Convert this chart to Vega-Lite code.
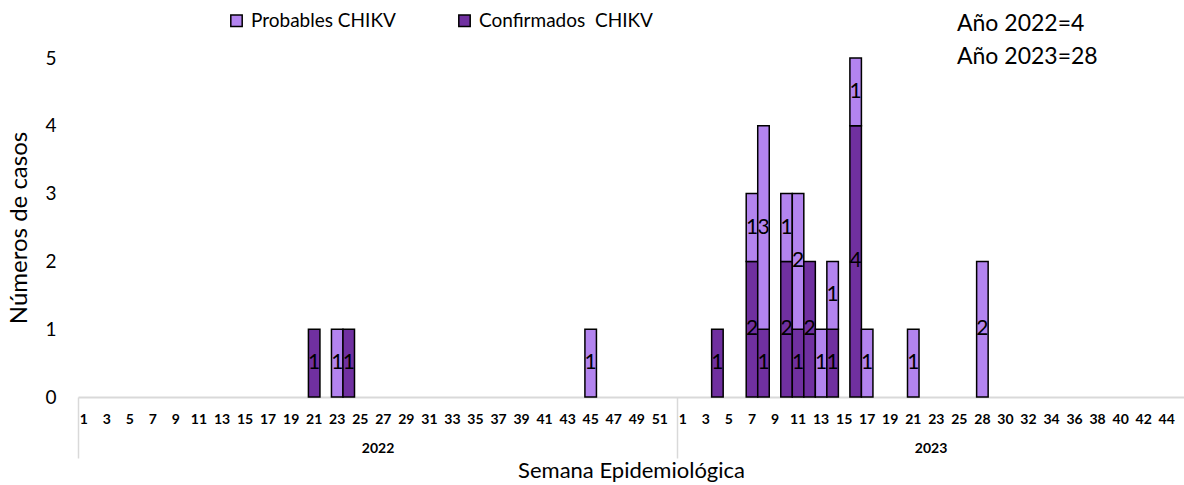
{
  "$schema": "https://vega.github.io/schema/vega-lite/v6.json",
  "autosize": {"type": "none"},
  "padding": {"left": 78, "top": 58, "right": 0, "bottom": 88},
  "width": 1106,
  "height": 339,
  "config": {"font": "Lato", "view": {"stroke": null}},
  "title": {
    "text": ["Año 2022=4", "Año 2023=28"],
    "anchor": "start", "align": "left", "orient": "top", "frame": "group",
    "fontSize": 23, "fontWeight": "normal", "font": "Lato", "color": "black",
    "baseline": "top", "lineHeight": 33, "dx": 879, "dy": 58, "offset": 0
  },
  "data": {
    "values": [
      {"key": "2022-21", "tipo": "Confirmados\u00a0 CHIKV", "n": 1},
      {"key": "2022-23", "tipo": "Probables CHIKV", "n": 1},
      {"key": "2022-24", "tipo": "Confirmados\u00a0 CHIKV", "n": 1},
      {"key": "2022-45", "tipo": "Probables CHIKV", "n": 1},
      {"key": "2023-4", "tipo": "Confirmados\u00a0 CHIKV", "n": 1},
      {"key": "2023-7", "tipo": "Confirmados\u00a0 CHIKV", "n": 2},
      {"key": "2023-7", "tipo": "Probables CHIKV", "n": 1},
      {"key": "2023-8", "tipo": "Confirmados\u00a0 CHIKV", "n": 1},
      {"key": "2023-8", "tipo": "Probables CHIKV", "n": 3},
      {"key": "2023-10", "tipo": "Confirmados\u00a0 CHIKV", "n": 2},
      {"key": "2023-10", "tipo": "Probables CHIKV", "n": 1},
      {"key": "2023-11", "tipo": "Confirmados\u00a0 CHIKV", "n": 1},
      {"key": "2023-11", "tipo": "Probables CHIKV", "n": 2},
      {"key": "2023-12", "tipo": "Confirmados\u00a0 CHIKV", "n": 2},
      {"key": "2023-13", "tipo": "Probables CHIKV", "n": 1},
      {"key": "2023-14", "tipo": "Confirmados\u00a0 CHIKV", "n": 1},
      {"key": "2023-14", "tipo": "Probables CHIKV", "n": 1},
      {"key": "2023-16", "tipo": "Confirmados\u00a0 CHIKV", "n": 4},
      {"key": "2023-16", "tipo": "Probables CHIKV", "n": 1},
      {"key": "2023-17", "tipo": "Probables CHIKV", "n": 1},
      {"key": "2023-21", "tipo": "Probables CHIKV", "n": 1},
      {"key": "2023-28", "tipo": "Probables CHIKV", "n": 2}
    ]
  },
  "resolve": {"scale": {"x": "independent"}, "axis": {"x": "independent"}},
  "layer": [
    {
      "encoding": {
        "x": {
          "field": "key", "type": "ordinal",
          "scale": {
            "paddingInner": 0, "paddingOuter": 0,
            "domain": ["2022-1","2022-2","2022-3","2022-4","2022-5","2022-6","2022-7","2022-8","2022-9","2022-10","2022-11","2022-12","2022-13","2022-14","2022-15","2022-16","2022-17","2022-18","2022-19","2022-20","2022-21","2022-22","2022-23","2022-24","2022-25","2022-26","2022-27","2022-28","2022-29","2022-30","2022-31","2022-32","2022-33","2022-34","2022-35","2022-36","2022-37","2022-38","2022-39","2022-40","2022-41","2022-42","2022-43","2022-44","2022-45","2022-46","2022-47","2022-48","2022-49","2022-50","2022-51","2022-52","2023-1","2023-2","2023-3","2023-4","2023-5","2023-6","2023-7","2023-8","2023-9","2023-10","2023-11","2023-12","2023-13","2023-14","2023-15","2023-16","2023-17","2023-18","2023-19","2023-20","2023-21","2023-22","2023-23","2023-24","2023-25","2023-27","2023-28","2023-29","2023-30","2023-31","2023-32","2023-33","2023-34","2023-35","2023-36","2023-37","2023-38","2023-39","2023-40","2023-41","2023-42","2023-43","2023-44","2023-45"]
          },
          "axis": {
            "title": null, "ticks": false, "grid": false,
            "domainColor": "#d9d9d9", "domainWidth": 2,
            "labelAngle": 0, "labelOverlap": false, "labelFontSize": 14,
            "labelFontWeight": "bold", "labelColor": "black", "labelPadding": 15,
            "labelExpr": "(slice(datum.value,0,4) == '2022' || toNumber(slice(datum.value,5)) <= 25) ? (toNumber(slice(datum.value,5)) % 2 == 1 ? slice(datum.value,5) : '') : (toNumber(slice(datum.value,5)) % 2 == 0 ? slice(datum.value,5) : '')"
          }
        }
      },
      "layer": [
        {
          "mark": {"type": "bar", "stroke": "black", "strokeWidth": 1.5},
          "encoding": {
            "y": {
              "field": "n", "type": "quantitative", "stack": "zero",
              "scale": {"domain": [0, 5], "nice": false},
              "axis": {
                "values": [0, 1, 2, 3, 4, 5], "format": "d", "grid": false, "domain": false, "ticks": false,
                "labelFontSize": 19, "labelColor": "black", "labelPadding": 22,
                "title": "Números de casos", "titleFontSize": 24, "titleFontWeight": "normal",
                "titleColor": "black", "titlePadding": 13
              }
            },
            "color": {
              "field": "tipo", "type": "nominal",
              "scale": {"domain": ["Probables CHIKV", "Confirmados\u00a0 CHIKV"], "range": ["#b384ef", "#7030a0"]},
              "legend": {
                "title": null, "orient": "none", "direction": "horizontal",
                "legendX": 149, "legendY": -47,
                "symbolType": "square", "symbolSize": 130, "symbolStrokeColor": "black",
                "symbolStrokeWidth": 1.5, "symbolOpacity": 1,
                "labelFontSize": 19, "labelColor": "black", "labelOffset": 5,
                "columnPadding": 59, "labelLimit": 300
              }
            },
            "order": {"field": "tipo", "sort": "ascending"}
          }
        },
        {
          "mark": {"type": "text", "fontSize": 21, "baseline": "middle", "color": "black"},
          "encoding": {
            "y": {"field": "n", "type": "quantitative", "stack": "zero", "bandPosition": 0.5},
            "detail": {"field": "tipo"},
            "order": {"field": "tipo", "sort": "ascending"},
            "text": {"field": "n", "type": "quantitative"}
          }
        }
      ]
    },
    {
      "mark": {"type": "point", "opacity": 0},
      "encoding": {
        "x": {
          "datum": 0, "type": "quantitative",
          "scale": {"domain": [0, 96], "nice": false, "zero": false},
          "axis": {
            "orient": "bottom", "values": [0, 26, 52, 74], "domain": false, "grid": false,
            "tickSize": 61, "tickColor": "#d9d9d9", "tickWidth": 1.5,
            "tickOpacity": {"condition": {"test": "datum.value == 26 || datum.value == 74", "value": 0}, "value": 1},
            "labelExpr": "datum.value == 26 ? '2022' : datum.value == 74 ? '2023' : ''",
            "labelFontWeight": "bold", "labelFontSize": 14, "labelColor": "black",
            "labelPadding": -17, "labelFlush": false, "labelOverlap": false,
            "title": "Semana Epidemiológica", "titleFontSize": 22, "titleFontWeight": "normal",
            "titleColor": "black", "titlePadding": 2
          }
        }
      }
    }
  ]
}
